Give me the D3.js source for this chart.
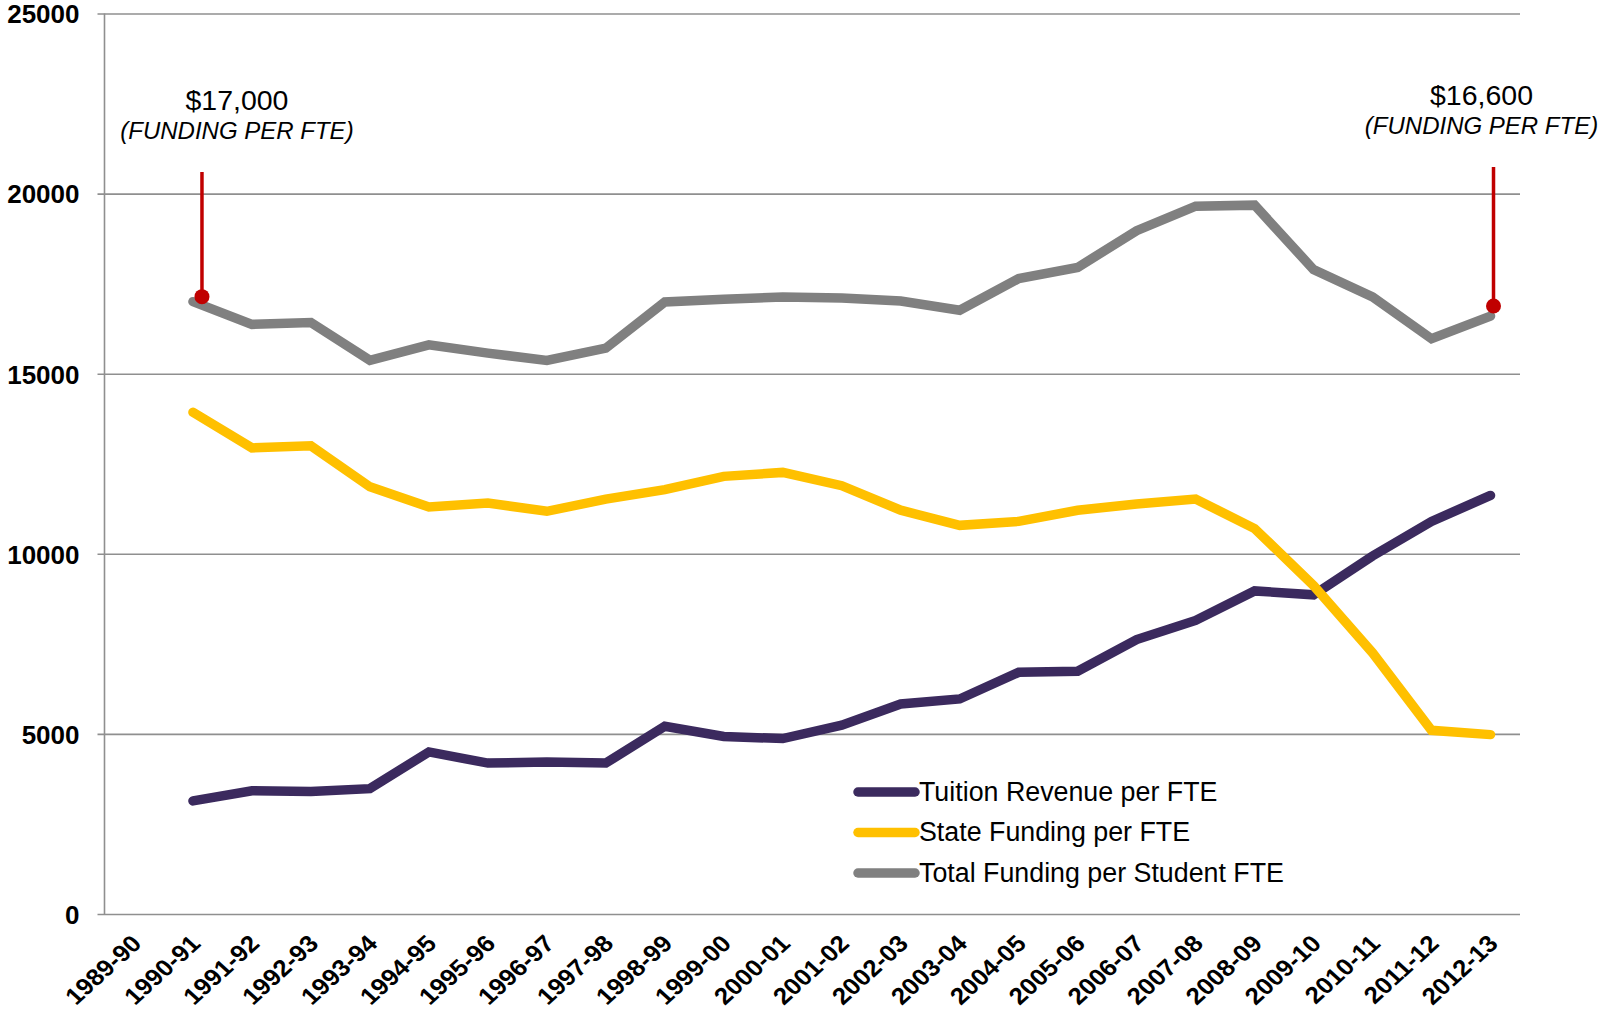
<!DOCTYPE html>
<html>
<head>
<meta charset="utf-8">
<script src="https://cdn.jsdelivr.net/npm/d3@7"></script>
<style>
  html, body { margin: 0; padding: 0; background: #fff; }
  svg { display: block; font-family: "Liberation Sans", Arial, sans-serif; }
</style>
</head>
<body>
<svg id="chart" width="1599" height="1013"></svg>
<script>
// Academic years on the x axis
const categories = ["1989-90","1990-91","1991-92","1992-93","1993-94","1994-95","1995-96","1996-97",
  "1997-98","1998-99","1999-00","2000-01","2001-02","2002-03","2003-04","2004-05","2005-06",
  "2006-07","2007-08","2008-09","2009-10","2010-11","2011-12","2012-13"];

// Dollars per full-time-equivalent student (no data for 1989-90)
const tuitionValues = [null, 3140, 3420, 3400, 3480, 4500, 4190, 4220, 4190, 5210, 4930, 4870,
  5240, 5830, 5970, 6710, 6740, 7620, 8150, 8970, 8860, 9940, 10900, 11620];
const stateValues = [null, 13930, 12940, 13000, 11860, 11300, 11410, 11180, 11520, 11780, 12150, 12260,
  11890, 11210, 10790, 10900, 11210, 11380, 11520, 10700, 9120, 7250, 5100, 4980];
const totalValues = [null, 17000, 16370, 16420, 15370, 15800, 15570, 15370, 15710, 16990, 17070, 17130,
  17100, 17020, 16760, 17640, 17950, 18970, 19650, 19680, 17890, 17130, 15970, 16600];

const seriesNames = ["Tuition Revenue per FTE", "State Funding per FTE", "Total Funding per Student FTE"];
const yTicks = [0, 5000, 10000, 15000, 20000, 25000];

// Callouts on the total-funding line
const calloutYears = ["1990-91", "2012-13"];
const calloutLabels = ["$17,000", "$16,600"];
const calloutNote = "(FUNDING PER FTE)";

const svg = d3.select("#chart");
const plotLeft = 104.5, plotRight = 1520, plotTop = 13.5, plotBottom = 914;

const x = d3.scaleBand().domain(categories).range([plotLeft, plotRight]).padding(0);
const cx = c => x(c) + x.bandwidth() / 2;
const y = d3.scaleLinear().domain([0, 25000]).range([plotBottom, plotTop]);

const gridColor = "#8f8f8f";

// Horizontal gridlines + y axis
const yAxis = d3.axisLeft(y).tickValues(yTicks).tickSize(-(plotRight - plotLeft)).tickPadding(25).tickFormat(d3.format("d"));
const gy = svg.append("g").attr("transform", `translate(${plotLeft},0)`).call(yAxis);
gy.select(".domain").remove();
gy.selectAll(".tick line").attr("stroke", gridColor).attr("stroke-width", 1.6).attr("x1", -7);
gy.selectAll(".tick text")
  .attr("fill", "#000").attr("font-size", 26).attr("font-weight", "bold")
  .attr("font-family", "Liberation Sans, Arial, sans-serif").attr("dy", "0.36em");

// Vertical axis line
svg.append("line").attr("x1", plotLeft).attr("x2", plotLeft).attr("y1", plotTop).attr("y2", plotBottom)
  .attr("stroke", gridColor).attr("stroke-width", 1.6);

// X axis labels
const xAxis = d3.axisBottom(x).tickSize(0).tickPadding(0);
const gx = svg.append("g").attr("transform", `translate(0,${plotBottom})`).call(xAxis);
gx.select(".domain").remove();
gx.selectAll(".tick text")
  .attr("fill", "#000").attr("font-size", 23.5).attr("font-weight", "bold")
  .attr("font-family", "Liberation Sans, Arial, sans-serif")
  .attr("text-anchor", "end")
  .attr("y", 0).attr("dy", 0)
  .attr("transform", "translate(9,31) scale(1.1,1) rotate(-45)");

// Series lines
const series = [
  { name: seriesNames[0], values: tuitionValues, color: "#3b2a5e" },
  { name: seriesNames[1], values: stateValues, color: "#ffc000" },
  { name: seriesNames[2], values: totalValues, color: "#808080" }
];
const line = d3.line()
  .defined(d => d.v != null)
  .x(d => cx(d.c))
  .y(d => y(d.v));

series.forEach(s => {
  const pts = categories.map((c, i) => ({ c, v: s.values[i] }));
  svg.append("path").datum(pts)
    .attr("fill", "none").attr("stroke", s.color).attr("stroke-width", 9.5)
    .attr("stroke-linecap", "round").attr("stroke-linejoin", "miter")
    .attr("d", line);
});

// Callouts: stem, dot and label
const red = "#c00000";
const calloutStyle = [
  { dx: 9, dy: -5, labelDx: 35, labelY: 110 },
  { dx: 3, dy: -10, labelDx: -12, labelY: 105 }
];
calloutYears.forEach((c, i) => {
  const st = calloutStyle[i];
  const v = totalValues[categories.indexOf(c)];
  const px = cx(c) + st.dx, py = y(v) + st.dy;
  svg.append("line").attr("x1", px).attr("x2", px).attr("y1", 172 - 5 * i).attr("y2", py)
    .attr("stroke", red).attr("stroke-width", 3.5);
  svg.append("circle").attr("cx", px).attr("cy", py).attr("r", 7.5).attr("fill", red);
  svg.append("text").attr("x", px + st.labelDx).attr("y", st.labelY)
    .attr("text-anchor", "middle").attr("font-size", 28.5).attr("fill", "#000")
    .text(calloutLabels[i]);
  svg.append("text").attr("x", px + st.labelDx).attr("y", st.labelY + 29)
    .attr("text-anchor", "middle").attr("font-size", 24).attr("font-style", "italic").attr("fill", "#000")
    .text(calloutNote);
});

// Legend
const legend = svg.append("g").attr("transform", "translate(858,792)");
series.forEach((s, i) => {
  const g = legend.append("g").attr("transform", `translate(0,${i * 40.5})`);
  g.append("line").attr("x1", 0).attr("x2", 57).attr("y1", 0).attr("y2", 0)
    .attr("stroke", s.color).attr("stroke-width", 9.5).attr("stroke-linecap", "round");
  g.append("text").attr("x", 61).attr("y", 8.8).attr("font-size", 26.8).attr("fill", "#000")
    .text(s.name);
});
</script>
</body>
</html>
